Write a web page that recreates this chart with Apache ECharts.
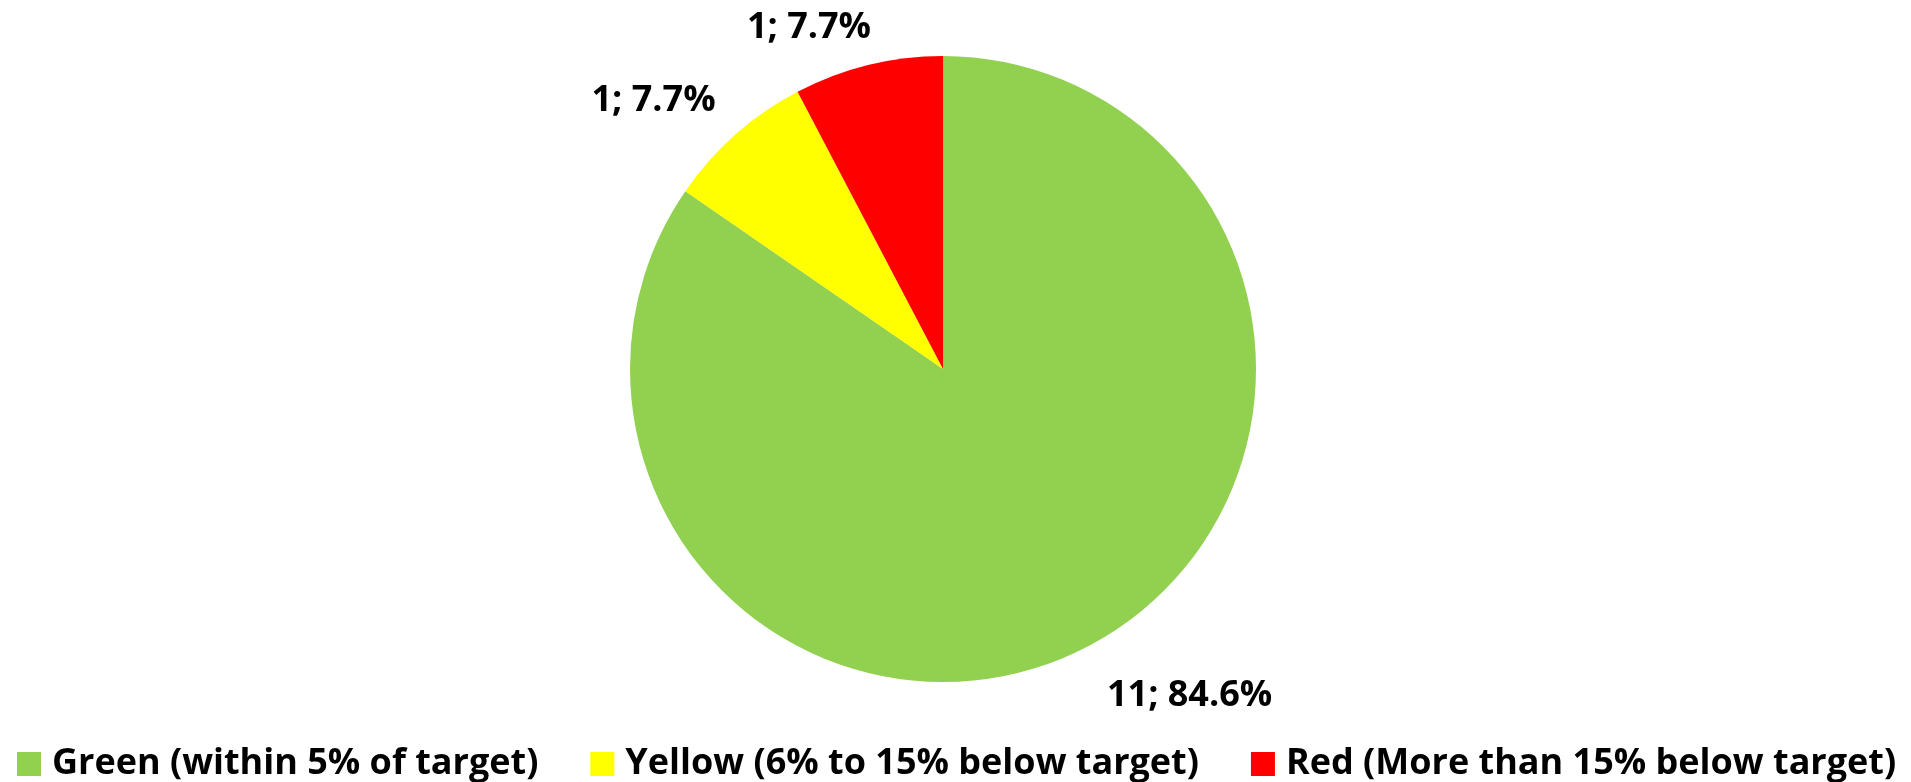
<!DOCTYPE html>
<html>
<head>
<meta charset="utf-8">
<title>Status distribution</title>
<script src="https://cdn.jsdelivr.net/npm/echarts@6/dist/echarts.min.js"></script>
<style>
  html, body { margin: 0; padding: 0; background: #ffffff; }
  #chart { width: 1911px; height: 782px; }
</style>
</head>
<body>
<div id="chart"></div>
<script>
// Status categories, counts and slice colours
const categories = [
  'Green (within 5% of target)',
  'Yellow (6% to 15% below target)',
  'Red (More than 15% below target)'
];
const counts = [11, 1, 1];
const colors = ['#92d050', '#ffff00', '#ff0000'];

// Small nudges for the outside labels, per slice [dx, dy]
const labelNudge = [[-6, 12], [13, -3], [18, 3]];

const FONT = '"Open Sans", "Liberation Sans", sans-serif';

const total = counts.reduce((a, b) => a + b, 0);
const pieData = categories.map((name, i) => ({
  name: name,
  value: counts[i],
  itemStyle: { color: colors[i] }
}));

const chart = echarts.init(document.getElementById('chart'), null, { renderer: 'canvas' });
chart.setOption({
  animation: false,
  backgroundColor: '#ffffff',
  legend: {
    data: categories,
    left: 17,
    top: 746,
    width: 1894,
    padding: 0,
    itemWidth: 24,
    itemHeight: 24,
    itemGap: 52,
    icon: 'rect',
    textStyle: {
      fontFamily: FONT,
      fontWeight: 'bold',
      fontSize: 36,
      lineHeight: 24,
      color: '#000000',
      padding: [0, 0, 0, 6]
    }
  },
  series: [{
    type: 'pie',
    center: [943, 369],
    radius: [0, 313],
    startAngle: 90,
    clockwise: true,
    data: pieData,
    silent: true,
    itemStyle: { borderWidth: 0 },
    label: {
      show: true,
      position: 'outside',
      formatter: (p) => p.value + '; ' + (p.value / total * 100).toFixed(1) + '%',
      fontFamily: FONT,
      fontWeight: 'bold',
      fontSize: 36,
      color: '#000000'
    },
    labelLine: { show: false, length: 42, length2: 0 },
    labelLayout: (params) => ({
      dx: labelNudge[params.dataIndex][0],
      dy: labelNudge[params.dataIndex][1]
    })
  }]
});
</script>
</body>
</html>
